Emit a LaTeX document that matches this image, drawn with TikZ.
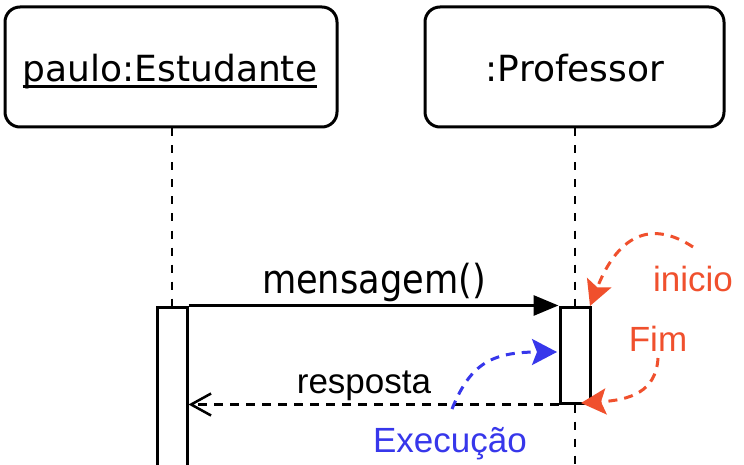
\documentclass[tikz,border=0pt]{standalone}
\usepackage{fontspec}
\setmainfont{Liberation Sans}
\newfontfamily\headfont{DejaVu Sans}
\newfontfamily\msgfont[FakeStretch=0.88]{DejaVu Sans}
\usetikzlibrary{arrows.meta,calc}
\definecolor{orng}{RGB}{240,80,45}
\definecolor{blu}{RGB}{55,55,235}
\begin{document}
\begin{tikzpicture}[x=1pt,y=-1pt,
  head/.style={draw,line width=3pt,rounded corners=15pt,inner sep=0pt,minimum height=120pt},
  headtxt/.style={inner sep=0pt,font=\headfont\fontsize{36}{42}\selectfont},
  lbl/.style={inner sep=0pt,font=\fontsize{35}{40}\selectfont},
  msgtxt/.style={inner sep=0pt,font=\msgfont\fontsize{40}{46}\selectfont},
  lifeline/.style={line width=2.2pt,dash pattern=on 8pt off 9pt},
  actbox/.style={draw,line width=3pt,fill=white,minimum width=30pt,inner sep=0pt},
  msgline/.style={line width=3pt,-{Triangle[length=25pt,width=20pt]}},
  retline/.style={line width=2.5pt,dash pattern=on 9pt off 7pt,-{Straight Barb[length=20pt,width=22pt,line width=2.5pt]}},
  note/.style={line width=3pt,dash pattern=on 9pt off 7pt,-{Stealth[length=25pt,width=26pt,inset=5pt]}}
]
\useasboundingbox (0,0) rectangle (744,465);
\fill[white] (0,0) rectangle (744,465);
% heads
\node[head,minimum width=332pt] (hA) at (171,67) {};
\node[head,minimum width=299pt] (hB) at (574.5,67) {};
\node[headtxt,anchor=base] (tA) at (170,82) {paulo:Estudante};
\node[headtxt,anchor=base] (tB) at (575,82) {:Professor};
\draw[line width=3pt] ($(tA.base west)+(0,4.5)$) -- ($(tA.base east)+(0,4.5)$);
% activation boxes
\node[actbox,minimum height=175pt] (actA) at (172,394.5) {};
\node[actbox,minimum height=96pt] (actB) at (575,355) {};
% lifelines
\draw[lifeline] (hA.south -| actA.north) -- (actA.north);
\draw[lifeline] (hB.south -| actB.north) -- (actB.north);
\coordinate (bEnd) at (575,470);
\draw[lifeline] (actB.south) -- (bEnd);
% messages
\draw[msgline] (actA.north east) -- (actB.north west);
\node[msgtxt,anchor=base] (mMsg) at (374,293) {mensagem()};
\coordinate (rTip) at (actA.east |- actB.south);
\draw[retline] (actB.south west) -- (rTip);
\node[lbl,anchor=base] (mRet) at (364,393) {resposta};
% notes
\coordinate (iniS) at (693,247);
\coordinate (iniE) at (590,306);
\draw[note,color=orng] (iniS) .. controls (655,222) and (620,230) .. (iniE);
\node[lbl,anchor=base,text=orng] (tIni) at (693,291) {inicio};
\coordinate (fimS) at (658,358);
\coordinate (fimE) at (581,403);
\draw[note,color=orng] (fimS) .. controls (656,392) and (630,400) .. (fimE);
\node[lbl,anchor=base,text=orng] (tFim) at (658,351) {Fim};
\coordinate (exS) at (452,409);
\coordinate (exE) at (557,352);
\draw[note,color=blu] (exS) .. controls (470,365) and (490,352) .. (exE);
\node[lbl,anchor=base,text=blu] (tEx) at (450,452) {Execução};
\end{tikzpicture}
\end{document}
